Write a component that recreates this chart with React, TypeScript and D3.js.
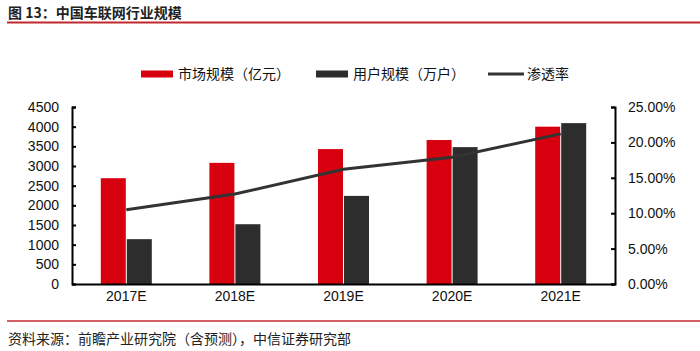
import React, { useEffect, useRef } from 'react';
import * as d3 from 'd3';

const categories = ['2017E', '2018E', '2019E', '2020E', '2021E'];
const marketSize = [2690, 3080, 3430, 3660, 4000]; // 亿元
const userSize = [1140, 1520, 2240, 3480, 4090]; // 万户
const penetration = [0.105, 0.127, 0.162, 0.179, 0.212];
const leftTicks = [0, 500, 1000, 1500, 2000, 2500, 3000, 3500, 4000, 4500];
const rightTicks = [0, 0.05, 0.1, 0.15, 0.2, 0.25];

const RED = '#d7000f';
const DARK = '#2d2d2d';
const FONT = '"Liberation Sans", Arial, "Noto Sans CJK SC", sans-serif';
const CJK = '"Noto Sans CJK SC", "Liberation Sans", sans-serif';

export default function App() {
  const svgRef = useRef<SVGSVGElement | null>(null);

  useEffect(() => {
    if (!svgRef.current) return;
    document.body.style.margin = '0';
    document.body.style.overflow = 'hidden';
    const svg = d3.select(svgRef.current);
    svg.selectAll('*').remove();

    const width = 700;
    const height = 351;
    const margin = { top: 107, right: 85, bottom: 67, left: 72 };
    const plotW = width - margin.left - margin.right;
    const plotH = height - margin.top - margin.bottom;

    svg.append('rect').attr('width', width).attr('height', height).attr('fill', '#fff');

    // title
    svg.append('text')
      .attr('x', 8).attr('y', 18)
      .attr('font-family', CJK).attr('font-size', 14).attr('font-weight', 'bold')
      .attr('fill', '#222')
      .text('图 13：中国车联网行业规模');
    svg.append('line')
      .attr('x1', 7).attr('x2', 700).attr('y1', 22.5).attr('y2', 22.5)
      .attr('stroke', '#c0282e').attr('stroke-width', 2);

    // footer
    svg.append('line')
      .attr('x1', 7).attr('x2', 700).attr('y1', 321).attr('y2', 321)
      .attr('stroke', '#c0282e').attr('stroke-width', 1.5);
    svg.append('text')
      .attr('x', 8).attr('y', 344)
      .attr('font-family', CJK).attr('font-size', 14)
      .attr('fill', '#222')
      .text('资料来源：前瞻产业研究院（含预测），中信证券研究部');

    const g = svg.append('g').attr('transform', `translate(${margin.left},${margin.top})`);

    const x = d3.scaleBand().domain(categories).range([0, plotW]).padding(0);
    const yL = d3.scaleLinear().domain([0, 4500]).range([plotH, 0]);
    const yR = d3.scaleLinear().domain([0, 0.25]).range([plotH, 0]);
    const barW = 25;

    // bars
    g.selectAll('.bar-m')
      .data(categories)
      .enter().append('rect')
      .attr('x', d => (x(d) as number) + x.bandwidth() / 2 - barW - 0.5)
      .attr('y', (d, i) => yL(marketSize[i]))
      .attr('width', barW)
      .attr('height', (d, i) => plotH - yL(marketSize[i]))
      .attr('fill', RED);

    g.selectAll('.bar-u')
      .data(categories)
      .enter().append('rect')
      .attr('x', d => (x(d) as number) + x.bandwidth() / 2 + 0.5)
      .attr('y', (d, i) => yL(userSize[i]))
      .attr('width', barW)
      .attr('height', (d, i) => plotH - yL(userSize[i]))
      .attr('fill', DARK);

    // line
    const line = d3.line<number>()
      .x((d, i) => (x(categories[i]) as number) + x.bandwidth() / 2)
      .y(d => yR(d));
    g.append('path')
      .datum(penetration)
      .attr('fill', 'none')
      .attr('stroke', '#333')
      .attr('stroke-width', 3)
      .attr('d', line);

    // left axis
    const left = g.append('g')
      .call(d3.axisLeft(yL).tickValues(leftTicks).tickSize(-4).tickPadding(13).tickFormat(d3.format('d')));
    left.select('.domain').attr('stroke', '#000').attr('stroke-width', 2);
    left.selectAll('.tick line').attr('stroke', '#000').attr('stroke-width', 2);
    left.selectAll('text')
      .attr('font-family', FONT).attr('font-size', 14).attr('fill', '#111');

    // right axis
    const right = g.append('g')
      .attr('transform', `translate(${plotW},0)`)
      .call(d3.axisRight(yR).tickValues(rightTicks).tickSize(-4).tickPadding(13)
        .tickFormat(d => `${((d as number) * 100).toFixed(2)}%`));
    right.select('.domain').attr('stroke', '#000').attr('stroke-width', 2);
    right.selectAll('.tick line').attr('stroke', '#000').attr('stroke-width', 2);
    right.selectAll('text')
      .attr('font-family', FONT).attr('font-size', 14).attr('fill', '#111');

    // bottom axis
    const bottom = g.append('g')
      .attr('transform', `translate(0,${plotH})`)
      .call(d3.axisBottom(x).tickSize(0).tickPadding(7));
    bottom.select('.domain').attr('stroke', '#000').attr('stroke-width', 2);
    bottom.selectAll('text')
      .attr('font-family', FONT).attr('font-size', 14).attr('fill', '#111');

    // legend
    const legend = svg.append('g').attr('font-family', CJK).attr('font-size', 14).attr('fill', '#111');
    const legendY = 74;
    legend.append('rect').attr('x', 141).attr('y', legendY - 3.5).attr('width', 32).attr('height', 7).attr('fill', RED);
    legend.append('text').attr('x', 178).attr('y', legendY + 5).text('市场规模（亿元）');
    legend.append('rect').attr('x', 316).attr('y', legendY - 3.5).attr('width', 32).attr('height', 7).attr('fill', DARK);
    legend.append('text').attr('x', 353).attr('y', legendY + 5).text('用户规模（万户）');
    legend.append('line').attr('x1', 488).attr('x2', 524).attr('y1', legendY).attr('y2', legendY)
      .attr('stroke', '#333').attr('stroke-width', 3);
    legend.append('text').attr('x', 527).attr('y', legendY + 5).text('渗透率');
  }, []);

  return (
    <div>
      <svg ref={svgRef} width={700} height={351} style={{ display: 'block' }} />
    </div>
  );
}
